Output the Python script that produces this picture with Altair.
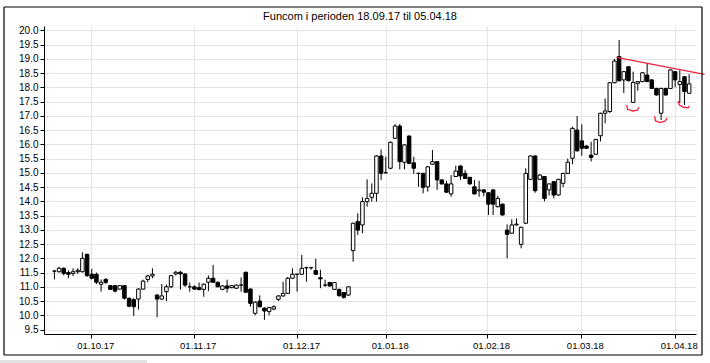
import altair as alt
import pandas as pd

# ---- data (trading-day index order) ----
opens = [11.55,11.53,11.65,11.50,11.47,11.53,11.53,12.14,11.44,11.44,11.09,11.26,11.04,11.04,10.92,11.04,10.60,10.55,10.57,10.92,
         11.26,11.38,10.71,10.57,10.83,11.00,11.45,11.51,11.45,11.00,11.00,10.97,10.91,11.16,11.30,11.16,10.91,11.03,10.97,10.95,
         11.06,11.51,10.92,10.07,10.50,10.25,10.13,10.22,10.56,10.68,10.77,11.30,11.44,11.44,11.67,11.67,11.57,11.32,11.06,11.15,
         10.91,10.91,10.80,10.71,12.27,13.29,13.17,13.99,14.14,14.28,15.59,15.00,15.16,16.21,16.64,15.37,16.29,15.35,14.98,14.98,
         14.51,15.30,15.39,14.75,14.61,14.26,14.87,15.24,14.98,14.84,14.51,14.37,14.40,14.30,14.40,13.81,13.90,12.99,12.88,13.17,
         12.49,13.23,14.77,15.59,14.77,14.87,14.40,14.69,14.22,14.63,14.98,15.51,16.50,16.12,15.94,15.62,15.65,16.30,17.09,17.15,
         18.16,19.08,18.26,18.72,17.47,18.14,18.20,18.43,18.26,17.96,17.09,17.96,17.96,18.55,18.10,18.37,17.79]
highs = [11.60,11.70,11.68,11.58,11.65,11.65,12.21,12.16,11.63,11.50,11.26,11.30,11.06,11.06,11.06,11.06,10.62,10.60,10.95,11.25,
         11.42,11.65,10.75,11.10,11.08,11.42,11.56,11.56,11.48,11.15,11.05,11.15,11.12,11.40,11.77,11.18,11.05,11.25,11.06,11.08,
         11.33,11.53,10.95,10.50,10.70,10.28,10.30,10.35,10.70,11.18,11.35,11.65,11.46,12.12,11.70,11.70,11.98,11.60,11.25,11.17,
         11.17,10.93,10.82,11.02,13.25,13.58,14.14,14.77,14.63,15.62,15.82,15.56,16.10,16.71,16.71,16.00,16.31,15.56,15.00,15.00,
         15.23,15.80,15.41,14.77,14.72,14.92,15.25,15.26,15.10,14.86,14.75,14.72,14.42,14.32,14.42,14.19,13.92,13.19,13.37,13.40,
         13.11,15.16,15.61,15.61,14.95,14.89,14.63,14.71,14.79,15.00,15.50,16.62,16.99,16.70,15.96,16.09,16.19,17.11,17.61,18.18,
         19.00,19.66,18.57,18.74,18.55,18.22,18.53,18.84,18.28,17.98,17.98,17.98,18.63,18.57,18.60,18.39,18.46]
lows = [11.26,11.50,11.40,11.30,11.38,11.45,11.50,11.35,11.26,11.10,10.83,11.10,10.90,10.80,10.90,10.55,10.28,9.98,10.20,10.90,
        11.16,11.30,9.93,10.55,10.50,10.95,11.40,10.90,11.00,10.83,10.90,10.88,10.65,10.85,11.14,10.98,10.88,10.80,10.95,10.93,
        10.83,10.78,10.30,10.00,10.28,9.84,10.00,10.18,10.50,10.65,10.75,11.28,10.83,11.42,11.18,11.60,11.42,10.95,11.00,11.00,
        10.89,10.65,10.58,10.68,11.88,12.82,12.88,13.81,13.99,13.99,14.75,14.98,15.12,16.18,15.12,15.12,15.30,14.96,14.51,14.28,
        14.34,15.28,14.40,14.59,14.30,14.16,14.85,14.75,14.78,14.59,14.24,14.16,14.18,13.52,13.52,13.79,13.50,12.00,12.86,13.15,
        12.35,13.20,14.75,14.30,14.75,14.00,14.20,14.10,14.20,14.50,14.96,15.30,15.75,15.60,15.84,15.40,15.63,16.10,16.74,17.10,
        18.14,18.20,17.80,18.21,17.45,17.88,18.18,18.18,17.94,17.71,16.85,17.71,17.94,18.00,17.45,17.38,17.77]
closes = [11.55,11.65,11.47,11.44,11.53,11.58,12.00,11.39,11.30,11.16,11.16,11.16,10.91,10.85,11.04,10.60,10.32,10.30,10.92,11.20,
          11.38,11.44,10.57,10.68,11.00,11.39,11.51,11.45,11.06,11.00,10.92,10.90,11.09,11.30,11.16,11.00,11.03,10.95,11.04,11.06,
          11.06,10.81,10.42,10.46,10.30,10.15,10.27,10.30,10.68,10.77,11.30,11.44,11.44,11.65,11.67,11.67,11.44,11.28,11.06,11.03,
          11.15,10.69,10.63,11.00,13.23,12.99,13.99,14.10,14.28,15.59,14.98,15.00,16.07,16.64,15.39,15.98,15.33,15.16,14.98,14.49,
          15.21,15.39,14.75,14.61,14.32,14.61,15.06,14.89,14.80,14.61,14.26,14.40,14.32,13.90,13.90,14.10,13.52,12.84,13.17,13.20,
          13.09,14.98,15.59,14.37,14.92,14.10,14.61,14.22,14.77,14.98,15.37,16.56,15.77,15.86,15.86,15.54,16.17,17.09,17.17,18.16,
          18.92,18.23,18.55,18.23,18.17,18.20,18.51,18.20,17.96,17.73,17.96,17.73,18.61,18.26,18.20,17.85,18.12]

title_text = "Funcom i perioden 18.09.17 til 05.04.18"
month_labels = ["01.10.17", "01.11.17", "01.12.17", "01.01.18", "01.02.18", "01.03.18", "01.04.18"]
month_tick_idx = [7.9, 29.85, 52.0, 71.0, 92.7, 112.8, 132.9]
y_ticks = [9.5 + 0.5 * k for k in range(22)]

# hand-drawn red annotations (trading-day index, price)
trend_i = [120.4, 139.3]
trend_v = [19.05, 18.45]
bracket_id = [1]*5 + [2]*5 + [3]*5
bracket_i = [122.6, 122.8, 123.9, 124.9, 125.3, 128.6, 128.8, 129.85, 130.9, 131.3, 133.6, 133.9, 134.8, 135.8, 136.0]
bracket_v = [17.38, 17.23, 17.17, 17.20, 17.30, 16.99, 16.82, 16.76, 16.82, 16.93, 17.52, 17.38, 17.30, 17.28, 17.34]

df = pd.DataFrame({"i": list(range(len(opens))), "o": opens, "h": highs, "l": lows, "c": closes})
df["bot"] = df[["o", "c"]].min(axis=1)
df["top"] = df[["o", "c"]].max(axis=1)
df["dir"] = ["up" if c >= o else "down" for o, c in zip(df["o"], df["c"])]

trend = pd.DataFrame({"i": trend_i, "v": trend_v})
brk = pd.DataFrame({"i": bracket_i, "v": bracket_v, "g": bracket_id, "k": list(range(len(bracket_i)))})

xs = alt.Scale(domain=[-1.16, 136.4], nice=False, zero=False)
ys = alt.Scale(domain=[9.344, 20.151], nice=False, zero=False)

label_expr = "[" + ",".join("'%s'" % s for s in month_labels) + "][indexof([" + \
    ",".join(str(v) for v in month_tick_idx) + "], datum.value)]"

xaxis = alt.Axis(values=month_tick_idx, labelExpr=label_expr, title=None, grid=True,
                 tickSize=4, labelPadding=2, labelOffset=4, labelFontSize=9.5)
yaxis = alt.Axis(values=y_ticks, format=".1f", title=None, grid=True,
                 tickSize=4, labelPadding=2, labelFontSize=10)

X = alt.X("i:Q", scale=xs, axis=xaxis)

base = alt.Chart(df)

wicks = base.mark_rule(color="black", strokeWidth=1).encode(
    x=X, y=alt.Y("l:Q", scale=ys, axis=yaxis), y2="h:Q")

bodies = base.mark_bar(size=3.5, stroke="black", strokeWidth=1).encode(
    x=X, y=alt.Y("bot:Q", scale=ys, axis=yaxis), y2="top:Q",
    fill=alt.Fill("dir:N", scale=alt.Scale(domain=["up", "down"], range=["white", "black"]), legend=None))

trend_line = alt.Chart(trend).mark_line(color="#e8283c", strokeWidth=1.3, clip=False).encode(
    x=alt.X("i:Q", scale=xs, axis=xaxis), y=alt.Y("v:Q", scale=ys, axis=yaxis))

brackets = alt.Chart(brk).mark_line(color="#e8283c", strokeWidth=1.3, clip=False).encode(
    x=alt.X("i:Q", scale=xs, axis=xaxis), y=alt.Y("v:Q", scale=ys, axis=yaxis),
    detail="g:N", order="k:Q")

one = pd.DataFrame({"k": [0]})
# outer frame drawn as four rules (pixel positions relative to plot origin)
frame_l = alt.Chart(one).mark_rule(color="black", strokeWidth=1.2).encode(
    x=alt.value(-40), y=alt.value(-19), y2=alt.value(329))
frame_r = alt.Chart(one).mark_rule(color="black", strokeWidth=1.2).encode(
    x=alt.value(658), y=alt.value(-19), y2=alt.value(329))
frame_t = alt.Chart(one).mark_rule(color="black", strokeWidth=1.2).encode(
    y=alt.value(-19), x=alt.value(-40), x2=alt.value(658))
frame_b = alt.Chart(one).mark_rule(color="black", strokeWidth=1.2).encode(
    y=alt.value(329), x=alt.value(-40), x2=alt.value(658))
scrollbar = alt.Chart(one).mark_rect(color="#e2e2e2").encode(
    x=alt.value(-44), x2=alt.value(103), y=alt.value(334), y2=alt.value(337))
title = alt.Chart(pd.DataFrame({"t": [title_text]})).mark_text(
    font="Liberation Sans", fontSize=11, color="black", align="center", baseline="middle").encode(
    text="t:N", x=alt.value(316), y=alt.value(-9))

chart = alt.layer(wicks, bodies, trend_line, brackets, frame_l, frame_r, frame_t, frame_b,
                  scrollbar, title).properties(
    width=652, height=308,
    autosize=alt.AutoSizeParams(type="none"),
    padding={"left": 44, "top": 26, "right": 14, "bottom": 29},
    background="white",
).configure_view(stroke=None).configure_axis(
    domainColor="black", tickColor="black", labelColor="black", labelFont="Liberation Sans",
    gridColor="#e3e3e3", gridWidth=1
)

chart.save("out.html", embed_options={"renderer": "svg", "actions": False})
